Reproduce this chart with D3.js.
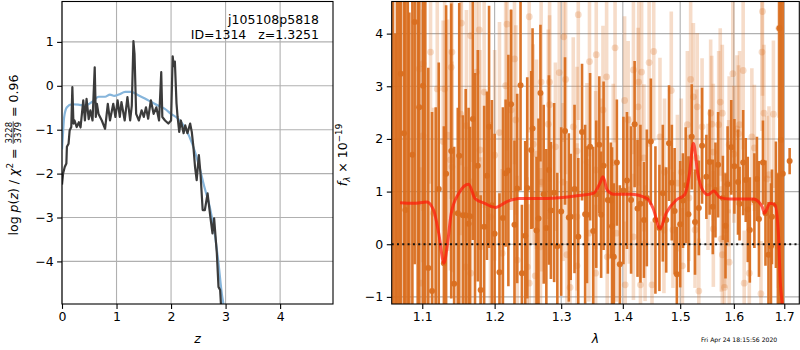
<!DOCTYPE html>
<html>
<head>
<meta charset="utf-8">
<script src="https://cdnjs.cloudflare.com/ajax/libs/d3/7.8.5/d3.min.js"></script>
<style>
    body { margin: 0; background: #fff; }
    svg { display: block; font-family: "DejaVu Sans", sans-serif; }
</style>
</head>
<body>
<svg id="chart" width="800" height="350"></svg>
<script>
// Left panel : redshift probability
var zTicks = [0, 1, 2, 3, 4];
var pTicks = [-4, -3, -2, -1, 0, 1];

var zBlue = [0, 0.02, 0.04, 0.09, 0.18, 0.30, 0.42, 0.55, 0.67, 0.79, 0.88, 0.96, 1.04, 1.16, 1.27, 1.39, 1.52, 1.64, 1.76, 1.88, 2.0, 2.13, 2.25, 2.34, 2.43, 2.52, 2.61, 2.71, 2.80, 2.87, 2.93, 2.96, 3.0];
var pBlue = [-1.45, -1.05, -0.71, -0.49, -0.42, -0.43, -0.45, -0.37, -0.25, -0.25, -0.2, -0.23, -0.2, -0.14, -0.14, -0.21, -0.29, -0.37, -0.45, -0.52, -0.64, -0.75, -0.94, -1.17, -1.47, -1.85, -2.3, -2.76, -3.36, -4.04, -4.73, -4.97, -5.4];

var zBlack = [0, 0.02, 0.05, 0.08, 0.09, 0.12, 0.14, 0.17, 0.19, 0.21, 0.23, 0.27, 0.31, 0.34, 0.39, 0.42, 0.45, 0.49, 0.52, 0.56, 0.60, 0.62, 0.64, 0.67, 0.73, 0.79, 0.84, 0.88, 0.94, 0.98, 1.02, 1.06, 1.09, 1.15, 1.20, 1.25, 1.28, 1.31, 1.33, 1.36, 1.41, 1.46, 1.50, 1.54, 1.58, 1.63, 1.68, 1.73, 1.78, 1.82, 1.84, 1.89, 1.95, 2.00, 2.03, 2.05, 2.07, 2.10, 2.12, 2.15, 2.18, 2.23, 2.26, 2.30, 2.35, 2.38, 2.41, 2.44, 2.47, 2.51, 2.54, 2.58, 2.62, 2.67, 2.72, 2.76, 2.79, 2.84, 2.87, 2.90, 2.93];
var pBlack = [-2.25, -2.0, -1.85, -1.77, -1.39, -1.32, -1.02, -0.94, -0.03, -0.86, -0.79, -0.94, -0.83, -0.95, -0.33, -0.79, -0.30, -0.76, -0.56, -0.79, 0.42, -0.71, -0.41, -0.64, -0.79, -0.98, -0.41, -0.79, -0.41, -0.71, -0.33, -0.71, -0.37, -0.79, -0.26, -0.79, -0.45, 1.02, 0.73, -0.64, -0.79, -0.56, -0.71, -0.49, -0.75, -0.33, -0.64, -0.49, -0.79, 0.31, -0.71, -0.79, -0.86, -0.79, 0.67, 0.45, 0.55, -0.40, -0.71, -1.05, -0.79, -1.08, -0.9, -1.08, -0.86, -1.05, -1.39, -1.85, -2.15, -1.58, -2.0, -2.83, -2.83, -2.45, -2.98, -3.36, -3.02, -3.82, -4.58, -4.65, -5.3];

// Right panel : spectrum
var lamTicks = [1.1, 1.2, 1.3, 1.4, 1.5, 1.6, 1.7];
var fluxTicks = [-1, 0, 1, 2, 3, 4];

var darkLam = [1.072, 1.076, 1.078, 1.087, 1.090, 1.101, 1.108, 1.113, 1.129, 1.132,
    1.139, 1.148, 1.150, 1.155, 1.159, 1.163, 1.165, 1.169, 1.176, 1.180,
    1.185, 1.189, 1.192, 1.200, 1.207, 1.212, 1.216, 1.220, 1.224, 1.229,
    1.238, 1.240, 1.245, 1.248, 1.254, 1.256, 1.262, 1.265, 1.268, 1.277,
    1.281, 1.284, 1.289, 1.294, 1.306, 1.312, 1.315, 1.333, 1.338, 1.341,
    1.346, 1.351, 1.361, 1.364, 1.368, 1.375, 1.380, 1.382, 1.385, 1.390,
    1.395, 1.407, 1.414, 1.420, 1.430, 1.436, 1.448, 1.456, 1.463, 1.469,
    1.475, 1.480, 1.490, 1.494, 1.515, 1.521, 1.534, 1.540, 1.548, 1.554,
    1.560, 1.570, 1.579, 1.588, 1.595, 1.608, 1.611, 1.618, 1.623, 1.631,
    1.640, 1.649, 1.657, 1.662, 1.668, 1.673, 1.675, 1.690, 1.693, 1.711,
    // bars whose points sit mostly out of view
    1.062, 1.065, 1.067, 1.070, 1.081, 1.083, 1.094, 1.096, 1.104, 1.118,
    1.122, 1.143, 1.172, 1.196, 1.233, 1.273, 1.300, 1.321, 1.327, 1.356,
    1.401, 1.425, 1.441, 1.485, 1.500, 1.505, 1.510, 1.527, 1.565, 1.584,
    1.601, 1.627, 1.645, 1.683, 1.687, 1.697];
var darkFlux = [3.24, 2.11, 0.65, 1.70, 4.22, 3.01, -0.45, -0.89, -0.36, 1.34,
    1.77, 0.59, 1.68, 0.55, 0.55, 0.39, 0.53, 2.38, 1.49, -0.87,
    0.33, 1.30, 2.23, 0.20, -0.53, 0.50, 1.35, 1.40, 2.66, 0.37,
    3.02, -0.55, 0.16, 1.07, 1.79, 2.20, 0.26, 0.49, 2.87, 0.31,
    1.41, 0.64, 0.98, -0.04, 2.15, 0.51, 0.52, 2.13, 0.57, 0.56,
    1.85, 0.25, 1.89, 0.56, 1.49, 0.84, 0.83, 0.34, -0.24, 1.55,
    -0.38, 1.21, 0.84, 2.28, 0.77, 0.46, 1.95, 0.46, 0.31, 0.97,
    0.46, 1.92, 0.63, -0.57, 0.57, 2.04, 0.69, 1.87, 1.28, 1.56,
    0.71, 1.51, 0.88, 1.14, 1.84, 1.18, 0.77, 1.55, 1.22, 0.27,
    0.83, 0.48, 1.55, 0.59, -0.20, -0.04, 0.52, 4.10, 1.98, 1.58,
    5.6, -2.0, 4.9, 6.0, 5.5, -1.6, 5.2, 2.6, 4.7, -1.4,
    1.05, -0.75, 0.95, 0.74, 1.06, 0.95, 0.62, 1.05, 0.14, 0.95,
    1.02, 0.68, 0.88, 1.17, 0.38, 0.83, 1.12, 0.42, 1.03, 0.35,
    1.48, 0.66, 1.24, 0.75, -0.05, 1.34];
var darkErr = [4.5, 4.0, 4.8, 5.0, 4.6, 4.2, 3.8, 3.4, 2.6, 3.2,
    2.8, 2.0, 2.9, 1.9, 2.4, 2.2, 1.7, 2.3, 2.2, 1.8,
    2.3, 1.6, 2.3, 1.9, 1.5, 2.1, 1.4, 2.2, 1.8, 1.6,
    2.0, 1.3, 1.8, 2.1, 1.5, 1.9, 1.4, 1.9, 1.3, 1.5,
    1.8, 1.3, 1.7, 1.4, 1.4, 1.6, 1.2, 1.3, 1.7, 1.3,
    1.4, 1.6, 1.3, 1.2, 1.6, 1.4, 1.1, 1.5, 1.4, 1.2,
    1.5, 1.3, 1.4, 1.2, 1.5, 1.1, 1.2, 1.4, 1.2, 1.3,
    1.0, 1.1, 1.2, 0.9, 1.1, 1.0, 0.9, 1.1, 0.8, 1.0,
    0.9, 1.0, 0.8, 1.1, 0.9, 1.0, 0.7, 1.0, 0.8, 1.0,
    0.9, 1.1, 0.8, 1.0, 1.0, 1.2, 0.9, 6.0, 5.0, 0.25,
    8, 6, 8, 8, 7, 6, 7, 5, 6, 4,
    2.4, 2.6, 2.3, 2.0, 1.8, 1.7, 1.6, 1.6, 1.5, 1.4,
    1.4, 1.3, 1.3, 1.1, 1.2, 0.9, 1.1, 1.0, 0.9, 1.0,
    0.9, 1.0, 0.8, 1.2, 1.4, 7];

var lightLam = [1.096, 1.098, 1.101, 1.101, 1.111, 1.115, 1.120, 1.128, 1.130, 1.134,
    1.138, 1.139, 1.140, 1.140, 1.152, 1.153, 1.159, 1.160, 1.166, 1.166,
    1.174, 1.178, 1.179, 1.180, 1.185, 1.194, 1.200, 1.207, 1.211, 1.216,
    1.218, 1.224, 1.229, 1.231, 1.233, 1.248, 1.251, 1.251, 1.257, 1.260,
    1.262, 1.268, 1.269, 1.270, 1.280, 1.282, 1.282, 1.291, 1.297, 1.303,
    1.304, 1.307, 1.309, 1.314, 1.319, 1.325, 1.325, 1.325, 1.327, 1.341,
    1.344, 1.345, 1.355, 1.355, 1.356, 1.364, 1.367, 1.373, 1.374, 1.384,
    1.387, 1.389, 1.403, 1.404, 1.409, 1.411, 1.418, 1.418, 1.426, 1.427,
    1.430, 1.432, 1.436, 1.438, 1.445, 1.450, 1.453, 1.464, 1.471, 1.472,
    1.484, 1.487, 1.495, 1.502, 1.504, 1.513, 1.516, 1.519, 1.524, 1.527,
    1.530, 1.531, 1.534, 1.540, 1.551, 1.556, 1.558, 1.561, 1.561, 1.571,
    1.574, 1.576, 1.578, 1.578, 1.582, 1.584, 1.590, 1.591, 1.591, 1.598,
    1.600, 1.606, 1.609, 1.611, 1.618, 1.620, 1.630, 1.635, 1.640, 1.653,
    1.655, 1.656, 1.659, 1.665, 1.669, 1.678, 1.688, 1.689];
var lightFlux = [3.33, -0.74, 3.43, 2.06, 3.65, 0.59, 2.95, 1.95, 2.95, 2.07,
    1.6, 3.36, 3.65, 1.47, 2.47, 4.2, -0.43, 2.25, 3.96, -0.55,
    3.27, 4.07, 1.79, -0.05, 2.89, 0.52, 1.69, 2.12, -0.17, 3.01,
    4.18, 2.55, 3.52, 2.36, -0.30, -0.43, 4.32, -0.74, 1.9, -0.6,
    1.71, -0.05, 3.08, 1.18, 2.28, 3.08, 2.65, 1.85, 3.26, 1.18,
    3.94, 3.13, -0.2, -0.82, 2.23, 1.77, 0.52, -0.41, 4.36, 1.56,
    0.21, 3.47, 1.41, -0.55, 3.6, 1.37, 2.55, 3.18, -0.24, 1.55,
    3.73, 0.21, 2.73, -0.77, 2.36, 1.03, 3.31, 0.14, 2.61, 3.08,
    -0.77, 3.27, 1.64, 0.02, 3.45, -0.77, 3.66, 2.04, 0.27, 1.37,
    2.92, 0.27, 1.16, 1.37, -0.41, 2.27, 0.88, 3.13, 2.8, 0.27,
    1.64, 2.61, -0.89, 2.23, 1.09, 2.49, 2.28, 0.29, 1.75, 2.27,
    2.7, 0.1, 2.49, -0.2, -0.82, 0.27, 1.16, 1.89, -0.34, 3.24,
    1.71, 2.19, 2.1, 2.27, 3.3, -0.74, -0.55, 2.04, 1.83, -0.94,
    3.65, 4.42, 2.49, 1.24, 1.32, 2.47, 0.27, 4.1];
var lightErr = [2.6, 2.2, 2.8, 2.4, 2.5, 2.0, 2.6, 2.3, 2.7, 2.2,
    2.1, 2.5, 2.6, 2.0, 2.3, 2.7, 1.9, 2.2, 2.4, 1.8,
    2.3, 2.5, 1.9, 1.7, 2.2, 1.8, 2.0, 2.1, 1.6, 2.2,
    2.4, 1.9, 2.0, 1.8, 1.6, 1.7, 2.2, 1.5, 1.9, 1.6,
    1.8, 1.5, 2.0, 1.7, 1.8, 1.9, 1.7, 1.6, 1.9, 1.5,
    2.0, 1.8, 1.4, 1.5, 1.7, 1.6, 1.4, 1.5, 2.0, 1.5,
    1.3, 1.8, 1.5, 1.3, 1.7, 1.4, 1.6, 1.7, 1.3, 1.5,
    1.8, 1.3, 1.6, 1.2, 1.5, 1.4, 1.6, 1.2, 1.5, 1.6,
    1.2, 1.7, 1.4, 1.1, 1.6, 1.2, 1.7, 1.5, 1.2, 1.4,
    1.5, 1.1, 1.3, 1.4, 1.1, 1.4, 1.2, 1.5, 1.4, 1.1,
    1.3, 1.4, 1.0, 1.3, 1.2, 1.4, 1.3, 1.1, 1.3, 1.4,
    1.4, 1.0, 1.3, 1.1, 1.0, 1.1, 1.2, 1.3, 1.0, 1.5,
    1.3, 1.4, 1.3, 1.4, 1.5, 1.0, 1.1, 1.3, 1.2, 1.0,
    1.5, 1.6, 1.3, 1.2, 1.3, 1.4, 1.1, 1.7];

var modelLam = [1.071, 1.088, 1.106, 1.115, 1.122, 1.129, 1.134, 1.139, 1.150, 1.163,
    1.172, 1.185, 1.201, 1.218, 1.236, 1.278, 1.325, 1.352, 1.362, 1.367,
    1.374, 1.385, 1.413, 1.441, 1.452, 1.464, 1.475, 1.493, 1.508, 1.517,
    1.524, 1.532, 1.541, 1.551, 1.562, 1.573, 1.592, 1.638, 1.655, 1.660,
    1.671, 1.681, 1.688, 1.692, 1.696, 1.700];
var modelFlux = [0.79, 0.78, 0.80, 0.65, 0.21, -0.36, 0.02, 0.59, 0.98, 1.14,
    0.87, 0.78, 0.70, 0.81, 0.87, 0.87, 0.92, 0.97, 1.16, 1.28,
    1.03, 0.95, 0.95, 0.87, 0.68, 0.30, 0.59, 0.84, 0.94, 1.35,
    1.92, 1.35, 1.03, 0.94, 1.01, 0.89, 0.86, 0.86, 0.72, 0.59,
    0.78, 0.75, 0.21, -0.74, -1.18, -2.0];

(function(d3) {

    var svg = d3.select("#chart");
    var FS = 12.5;
    var gridColor = "#b0b0b0";
    var orange = "#d96e1f";

    var zip = function(a, b, c) {
        return a.map(function(v, i) { return c ? [v, b[i], c[i]] : [v, b[i]]; });
    };

    // draws grid, ticks and labels for one panel
    var drawFrame = function(box, xs, ys, xt, yt, xfmt, yfmt, id) {
        var g = svg.append("g");
        g.append("clipPath").attr("id", id)
            .append("rect")
            .attr("x", box.x0).attr("y", box.y0)
            .attr("width", box.x1 - box.x0).attr("height", box.y1 - box.y0);

        g.selectAll("line.gx").data(xt).enter().append("line")
            .attr("x1", function(d) { return xs(d); }).attr("x2", function(d) { return xs(d); })
            .attr("y1", box.y0).attr("y2", box.y1)
            .attr("stroke", gridColor).attr("stroke-width", 1.1);
        g.selectAll("line.gy").data(yt).enter().append("line")
            .attr("y1", function(d) { return ys(d); }).attr("y2", function(d) { return ys(d); })
            .attr("x1", box.x0).attr("x2", box.x1)
            .attr("stroke", gridColor).attr("stroke-width", 1.1);

        var ax = svg.append("g").attr("transform", "translate(0," + box.y1 + ")")
            .call(d3.axisBottom(xs).tickValues(xt).tickFormat(xfmt).tickSize(4.9).tickPadding(3.5));
        var ay = svg.append("g").attr("transform", "translate(" + box.x0 + ",0)")
            .call(d3.axisLeft(ys).tickValues(yt).tickFormat(yfmt).tickSize(4.9).tickPadding(3.5));
        [ax, ay].forEach(function(a) {
            a.select(".domain").remove();
            a.selectAll("line").attr("stroke", "#000").attr("stroke-width", 1.1);
            a.selectAll("text").attr("font-size", FS).attr("font-family", "DejaVu Sans").attr("fill", "#000");
        });
        return g;
    };

    var drawSpines = function(box) {
        svg.append("rect")
            .attr("x", box.x0).attr("y", box.y0)
            .attr("width", box.x1 - box.x0).attr("height", box.y1 - box.y0)
            .attr("fill", "none").attr("stroke", "#000").attr("stroke-width", 1.1);
    };

    //*** left panel
    var L = { x0: 62, x1: 333, y0: 1.5, y1: 304 };
    var zScale = d3.scaleLinear().domain([0, 4.97]).range([L.x0, L.x1]);
    var pScale = d3.scaleLinear().domain([-4.97, 1.92]).range([L.y1, L.y0]);
    drawFrame(L, zScale, pScale, zTicks, pTicks, d3.format("d"), d3.format("d"), "clipL");

    var lineL = d3.line()
        .x(function(d) { return zScale(d[0]); })
        .y(function(d) { return pScale(d[1]); });
    var plotL = svg.append("g").attr("clip-path", "url(#clipL)");
    plotL.append("path").datum(zip(zBlue, pBlue)).attr("d", lineL.curve(d3.curveMonotoneX))
        .attr("fill", "none").attr("stroke", "#86b5db").attr("stroke-width", 2.2);
    plotL.append("path").datum(zip(zBlack, pBlack)).attr("d", lineL.curve(d3.curveLinear))
        .attr("fill", "none").attr("stroke", "#3b3b3b").attr("stroke-width", 2.2)
        .attr("stroke-linejoin", "round");
    drawSpines(L);

    svg.append("text").attr("x", 319).attr("y", 24).attr("text-anchor", "end")
        .attr("font-size", FS).text("j105108p5818");
    svg.append("text").attr("x", 319).attr("y", 39).attr("text-anchor", "end")
        .attr("font-size", FS).style("white-space", "pre")
        .text("ID=1314   z=1.3251");

    svg.append("text").attr("x", (L.x0 + L.x1) / 2).attr("y", 343).attr("text-anchor", "middle")
        .attr("font-size", FS).attr("font-style", "italic").text("z");

    // y label : log p(z) / chi^2 = 3228/3379 = 0.96
    var yl = svg.append("g").attr("transform", "translate(17.5,155) rotate(-90)");
    var t1 = yl.append("text").attr("font-size", FS).style("white-space", "pre");
    t1.append("tspan").text("log ");
    t1.append("tspan").attr("font-style", "italic").text("p");
    t1.append("tspan").text("(");
    t1.append("tspan").attr("font-style", "italic").text("z");
    t1.append("tspan").text(") / ");
    t1.append("tspan").attr("font-style", "italic").text("χ");
    t1.append("tspan").attr("font-size", 8.8).attr("dy", -5).text("2");
    t1.append("tspan").attr("dy", 5).text(" = ");
    var fNum = yl.append("text").attr("font-size", 8.5).attr("text-anchor", "middle").attr("y", -6).text("3228");
    var fDen = yl.append("text").attr("font-size", 8.5).attr("text-anchor", "middle").attr("y", 3).text("3379");
    var t3 = yl.append("text").attr("font-size", FS).style("white-space", "pre").text(" = 0.96");
    var w1 = t1.node().getComputedTextLength();
    var wf = Math.max(fNum.node().getComputedTextLength(), fDen.node().getComputedTextLength()) + 2;
    var w3 = t3.node().getComputedTextLength();
    var x0 = -(w1 + wf + w3) / 2;
    t1.attr("x", x0);
    fNum.attr("x", x0 + w1 + wf / 2);
    fDen.attr("x", x0 + w1 + wf / 2);
    yl.append("line").attr("x1", x0 + w1 + 0.5).attr("x2", x0 + w1 + wf - 0.5)
        .attr("y1", -4.3).attr("y2", -4.3).attr("stroke", "#000").attr("stroke-width", 0.7);
    t3.attr("x", x0 + w1 + wf);

    //*** right panel
    var R = { x0: 391.7, x1: 799.3, y0: 1.5, y1: 304 };
    var lamScale = d3.scaleLog().domain([1.0603, 1.731]).range([R.x0, R.x1]);
    var fluxScale = d3.scaleLinear().domain([-1.135, 4.61]).range([R.y1, R.y0]);
    drawFrame(R, lamScale, fluxScale, lamTicks, fluxTicks, d3.format(".1f"), d3.format("d"), "clipR");

    var plotR = svg.append("g").attr("clip-path", "url(#clipR)");

    var errorBars = function(rows, width, opacity, radius) {
        var g = plotR.append("g");
        g.selectAll("line").data(rows).enter().append("line")
            .attr("x1", function(d) { return lamScale(d[0]); })
            .attr("x2", function(d) { return lamScale(d[0]); })
            .attr("y1", function(d) { return fluxScale(d[1] - d[2]); })
            .attr("y2", function(d) { return fluxScale(d[1] + d[2]); })
            .attr("stroke", orange).attr("stroke-opacity", opacity).attr("stroke-width", width);
        g.selectAll("circle").data(rows).enter().append("circle")
            .attr("cx", function(d) { return lamScale(d[0]); })
            .attr("cy", function(d) { return fluxScale(d[1]); })
            .attr("r", radius)
            .attr("fill", orange).attr("fill-opacity", opacity);
    };
    errorBars(zip(lightLam, lightFlux, lightErr), 3.6, 0.24, 3.4);
    errorBars(zip(darkLam, darkFlux, darkErr), 2.6, 0.95, 3);

    var lineR = d3.line()
        .x(function(d) { return lamScale(d[0]); })
        .y(function(d) { return fluxScale(d[1]); })
        .curve(d3.curveMonotoneX);
    plotR.append("path").datum(zip(modelLam, modelFlux)).attr("d", lineR)
        .attr("fill", "none").attr("stroke", "#ff1a0a").attr("stroke-opacity", 0.72)
        .attr("stroke-width", 3);

    plotR.append("line")
        .attr("x1", R.x0).attr("x2", R.x1)
        .attr("y1", fluxScale(0)).attr("y2", fluxScale(0))
        .attr("stroke", "#111").attr("stroke-width", 2).attr("stroke-dasharray", "2,3.3");
    drawSpines(R);

    svg.append("text").attr("x", (R.x0 + R.x1) / 2).attr("y", 343).attr("text-anchor", "middle")
        .attr("font-size", FS).attr("font-style", "italic").text("λ");

    // y label : f_lambda x 10^-19
    var yr = svg.append("g").attr("transform", "translate(347,155) rotate(-90)");
    var tr = yr.append("text").attr("font-size", FS).attr("text-anchor", "middle").style("white-space", "pre");
    tr.append("tspan").attr("font-style", "italic").text("f");
    tr.append("tspan").attr("font-size", 8.8).attr("font-style", "italic").attr("dy", 3).text("λ");
    tr.append("tspan").attr("dy", -3).text(" × 10");
    tr.append("tspan").attr("font-size", 8.8).attr("dy", -5).text("−19");

    svg.append("text").attr("x", 701).attr("y", 342).attr("font-size", 6.1)
        .text("Fri Apr 24 18:15:56 2020");

})(d3);
</script>
</body>
</html>
